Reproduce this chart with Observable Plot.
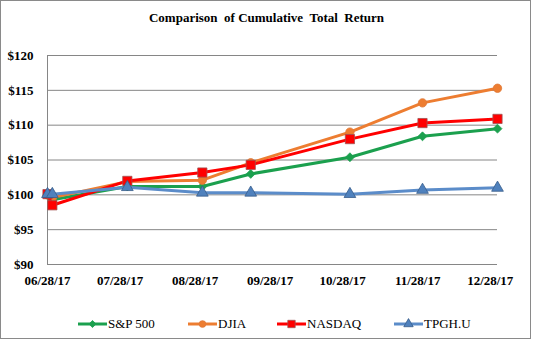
<!DOCTYPE html>
<html>
<head>
<meta charset="utf-8">
<script src="https://cdn.jsdelivr.net/npm/d3@7"></script>
<script src="https://cdn.jsdelivr.net/npm/@observablehq/plot@0.6"></script>
<style>
  html, body { margin: 0; padding: 0; background: #fff; }
  #frame { position: relative; width: 529px; height: 337px; border: 1px solid #8a8a8a; background: #fff; overflow: hidden; }
  #title { height: 29px; font-family: 'Liberation Serif'; font-weight: bold; font-size: 13px; text-align: center; white-space: pre; line-height: 34px; color: #000; padding-left: 2px; box-sizing: border-box; }
  #chart svg { display: block; }
  #legend { position: relative; height: 37px; font-family: 'Liberation Serif'; font-size: 13px; color: #000; }
  .item { position: absolute; top: 15px; display: flex; align-items: center; height: 18px; }
  .item svg { display: block; margin-right: 1px; }
</style>
</head>
<body>
<div id="frame">
  <div id="title">Comparison  of Cumulative  Total  Return</div>
  <div id="chart"></div>
  <div id="legend"></div>
</div>
<script>
// ---- data ----
const dates = ["2017-06-28", "2017-06-30", "2017-07-31", "2017-08-31", "2017-09-20", "2017-10-31", "2017-11-30", "2017-12-31"];
const seriesNames = ["S&P 500", "DJIA", "NASDAQ", "TPGH.U"];
const sp500  = [100, 99.3, 101.2, 101.2, 103.0, 105.4, 108.4, 109.5];
const djia   = [100, 99.6, 101.9, 102.1, 104.6, 109.0, 113.2, 115.3];
const nasdaq = [100.1, 98.5, 102.0, 103.2, 104.3, 108.0, 110.3, 110.9];
const tpgh   = [100.1, 100.1, 101.1, 100.3, 100.3, 100.1, 100.7, 101.0];
const yTicks = [90, 95, 100, 105, 110, 115, 120];
const xTickLabels = ["06/28/17", "07/28/17", "08/28/17", "09/28/17", "10/28/17", "11/28/17", "12/28/17"];
const xDomain = ["2017-06-28", "2017-12-31"];

// ---- styles ----
const styles = [
  {line: "#1ba04e", fill: "#1ba04e", stroke: "#1ba04e", symbol: "diamond2", r: 4},
  {line: "#ed7d31", fill: "#ed7d31", stroke: "#e07a3a", symbol: "circle", r: 4.2},
  {line: "#ff0000", fill: "#ff0000", stroke: "#a05050", symbol: "square", r: 5.2},
  {line: "#5b8cc9", fill: "#4f81bd", stroke: "#385d8a", symbol: "triangle2", r: 5.6}
];

const valuesList = [sp500, djia, nasdaq, tpgh];
const parse = d3.utcParse("%Y-%m-%d");
const data = seriesNames.map((name, i) => dates.map((d, j) => ({series: name, date: parse(d), value: valuesList[i][j]})));
const xTicks = xTickLabels.map(s => d3.utcParse("%m/%d/%y")(s));

const marks = [
  Plot.gridY(yTicks, {stroke: "#868686", strokeOpacity: 1}),
  Plot.ruleX([parse(xDomain[0])], {stroke: "#868686", strokeOpacity: 1}),
  Plot.axisY(yTicks, {tickSize: 0, tickPadding: 14, tickFormat: d => "$" + d, label: null, fontWeight: "bold"}),
  Plot.axisX(xTicks, {tickSize: 0, tickPadding: 11, tickFormat: d3.utcFormat("%m/%d/%y"), label: null, fontWeight: "bold"})
];
data.forEach((rows, i) => {
  const s = styles[i];
  marks.push(Plot.line(rows, {x: "date", y: "value", stroke: s.line, strokeWidth: 3}));
  marks.push(Plot.dot(rows, {x: "date", y: "value", symbol: () => s.symbol, r: s.r, fill: s.fill, stroke: s.stroke, strokeWidth: 0.8}));
});

const chart = Plot.plot({
  width: 529,
  height: 270,
  marginLeft: 46,
  marginRight: 33,
  marginTop: 25,
  marginBottom: 36,
  style: {fontFamily: "Liberation Serif", fontSize: "13px", color: "#000", background: "transparent"},
  x: {type: "utc", domain: xDomain.map(parse)},
  y: {domain: [90, 120]},
  marks
});
document.getElementById("chart").appendChild(chart);

// ---- legend ----
const legendLefts = [77, 187, 276, 393];
const legend = d3.select("#legend");
seriesNames.forEach((name, i) => {
  const s = styles[i];
  const item = legend.append("div").attr("class", "item").style("left", legendLefts[i] + "px");
  const sw = item.append("svg").attr("width", 29).attr("height", 12);
  sw.append("line").attr("x1", 0).attr("x2", 29).attr("y1", 6).attr("y2", 6).attr("stroke", s.line).attr("stroke-width", 3);
  const size = Math.PI * (s.r * 0.8) ** 2;
  const sym = {diamond2: d3.symbolDiamond2, circle: d3.symbolCircle, square: d3.symbolSquare, triangle2: d3.symbolTriangle2}[s.symbol];
  sw.append("path").attr("d", d3.symbol(sym, size)()).attr("transform", "translate(14.5,6)")
    .attr("fill", s.fill).attr("stroke", s.stroke).attr("stroke-width", 0.8);
  item.append("span").text(name);
});
</script>
</body>
</html>
